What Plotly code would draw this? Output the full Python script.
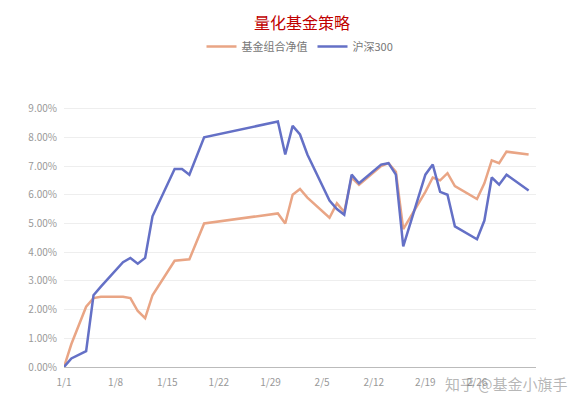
import plotly.graph_objects as go
import pandas as pd

days = [0,1,3,4,5,8,9,10,11,12,15,16,17,19,29,30,31,32,33,36,37,38,39,40,43,44,45,46,49,50,51,52,53,56,57,58,59,60,63]
fund = [0,0.8,2.1,2.4,2.45,2.45,2.4,1.95,1.7,2.5,3.7,3.72,3.75,5.0,5.35,5.0,6.0,6.2,5.9,5.2,5.7,5.4,6.6,6.35,7.0,7.1,6.8,4.8,6.1,6.6,6.5,6.75,6.3,5.85,6.4,7.2,7.1,7.5,7.4]
hs300 = [0,0.3,0.55,2.5,2.8,3.65,3.8,3.6,3.8,5.25,6.9,6.9,6.7,8.0,8.55,7.4,8.4,8.1,7.4,5.8,5.5,5.3,6.7,6.4,7.05,7.1,6.7,4.2,6.7,7.05,6.1,6.0,4.9,4.45,5.1,6.6,6.35,6.7,6.15]
tick_labels = ["1/1","1/8","1/15","1/22","1/29","2/5","2/12","2/19","2/26"]
yticks = [i for i in range(10)]

start = pd.Timestamp("2021-01-01")
dates = [start + pd.Timedelta(days=d) for d in days]
tickdates = [start + pd.Timedelta(days=7*i) for i in range(len(tick_labels))]

fig = go.Figure()
fig.add_trace(go.Scatter(x=dates, y=fund, mode="lines", name="基金组合净值",
                         line=dict(color="#E9A585", width=2.5)))
fig.add_trace(go.Scatter(x=dates, y=hs300, mode="lines", name="沪深300",
                         line=dict(color="#6470C6", width=2.5)))
fig.update_layout(
    width=588, height=408, plot_bgcolor="white", paper_bgcolor="white",
    margin=dict(l=56, r=60, t=92, b=49, autoexpand=False),
    font=dict(family="Noto Sans CJK SC", color="#888", size=11),
    title=dict(text="量化基金策略", x=0.5, y=0.962, xanchor="center", yanchor="middle",
               font=dict(color="#C00000", size=16)),
    legend=dict(orientation="h", x=0.5, xanchor="center", y=1.2, yanchor="middle",
                font=dict(size=11, color="#777")),
    xaxis=dict(range=[start, start + pd.Timedelta(days=64)], tickvals=tickdates, ticktext=tick_labels,
               showgrid=False, showline=True, linecolor="#bbb", ticks="", ticklabelstandoff=6,
               automargin=False, tickfont=dict(color="#999", size=10)),
    yaxis=dict(range=[0, 9.3], tickvals=yticks, ticktext=[f"{v}.00%" for v in yticks],
               showgrid=True, gridcolor="#eee", zeroline=False, ticklabelstandoff=6,
               automargin=False, tickfont=dict(color="#999", size=10)),
)
fig.add_annotation(text="知乎 @基金小旗手", x=1.072, xref="paper", y=-0.06, yref="paper",
                   xanchor="right", yanchor="middle",
                   showarrow=False, font=dict(size=15, color="rgba(120,120,120,0.55)"))
fig.write_html("out.html")
